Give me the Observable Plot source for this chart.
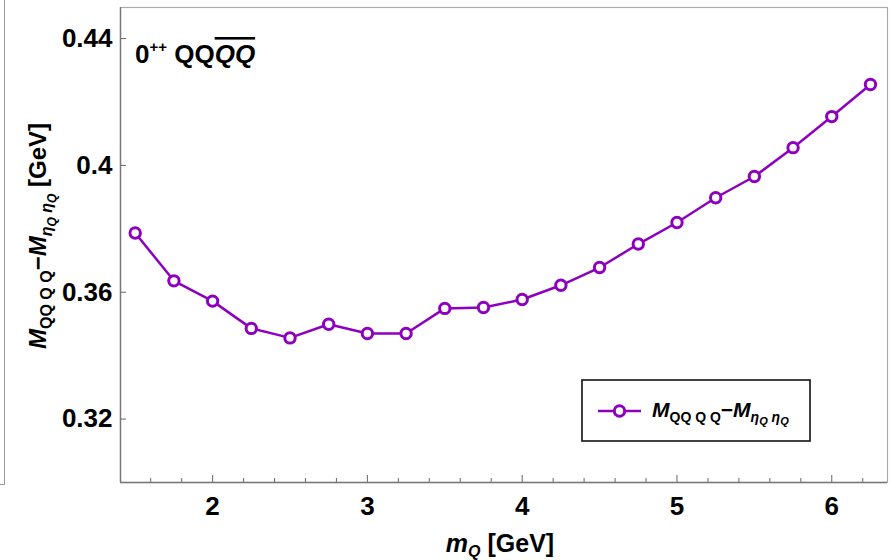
<!DOCTYPE html>
<html><head><meta charset="utf-8">
<script src="https://cdn.jsdelivr.net/npm/d3@7"></script>
<script src="https://cdn.jsdelivr.net/npm/@observablehq/plot@0.6"></script>
<style>
body{margin:0;background:#fff;}
#chart{position:relative;width:892px;height:560px;}
#edge{position:absolute;left:-2px;top:-2px;width:6px;height:486px;border-right:1.5px solid #999;border-bottom:1.5px solid #999;}
#chart svg{position:absolute;left:0;top:0;}
</style></head><body><div id="chart"><div id="edge"></div></div>
<script>
const mQ = [1.5,1.75,2.0,2.25,2.5,2.75,3.0,3.25,3.5,3.75,4.0,4.25,4.5,4.75,5.0,5.25,5.5,5.75,6.0,6.25];
const deltaM = [0.3787,0.3636,0.3572,0.3486,0.3456,0.3499,0.3470,0.3470,0.3549,0.3552,0.3577,0.3622,0.3678,0.3752,0.3820,0.3898,0.3965,0.4056,0.4154,0.4255];
const xTicks = [2,3,4,5,6];
const xTickLabels = ["2","3","4","5","6"];
const xMinorTicks = [1.6,1.8,2.2,2.4,2.6,2.8,3.2,3.4,3.6,3.8,4.2,4.4,4.6,4.8,5.2,5.4,5.6,5.8,6.2];
const yTicks = [0.32,0.36,0.40,0.44];
const yTickLabels = ["0.32","0.36","0.4","0.44"];

const data = mQ.map((x,i)=>({x, y: deltaM[i]}));
const purple = "#8e00c0";
const sans = "'Liberation Sans', Arial, Helvetica, sans-serif";

const plot = Plot.plot({
  width: 892, height: 560,
  marginLeft: 120, marginRight: 5, marginTop: 7, marginBottom: 78,
  x: {domain: [1.405, 6.36]},
  y: {domain: [0.3, 0.4498]},
  style: {fontFamily: sans, color: "#000", background: "transparent"},
  marks: [
    Plot.frame({stroke: "#aaa", strokeWidth: 1.2}),
    Plot.axisX({ticks: xMinorTicks, tickSize: -4, tickFormat: () => "", label: null, stroke: "#666"}),
    Plot.axisX({ticks: xTicks, tickSize: -7, tickPadding: 21, tickFormat: d => xTickLabels[xTicks.indexOf(d)],
      fontSize: 26, fontWeight: "bold", label: null, stroke: "#666"}),
    Plot.axisY({ticks: yTicks, tickSize: -6, tickPadding: 14, tickFormat: d => yTickLabels[yTicks.indexOf(d)],
      fontSize: 26, fontWeight: "bold", label: null, stroke: "#666"}),
    Plot.ruleX([1.405], {stroke: "#777", strokeWidth: 1.4}),
    Plot.ruleY([0.3], {stroke: "#777", strokeWidth: 1.4}),
    Plot.line(data, {x: "x", y: "y", stroke: purple, strokeWidth: 2.5}),
    Plot.dot(data, {x: "x", y: "y", r: 5.2, fill: "white", stroke: purple, strokeWidth: 3})
  ]
});
document.getElementById("chart").appendChild(plot);

const svg = d3.select(plot);

// build "M_{QQ Q Q} − M_{ηQ ηQ}" into a text selection
function massExpr(t, fs) {
  const sub = Math.round(fs*0.68), sub2 = Math.round(fs*0.5);
  const d1 = fs*0.26, d2 = fs*0.14;
  t.append("tspan").attr("font-style","italic").text("M");
  t.append("tspan").attr("font-size",sub).attr("dy",d1).text("QQ Q Q");
  t.append("tspan").attr("dy",-d1).text("\u2212");
  t.append("tspan").attr("font-style","italic").text("M");
  t.append("tspan").attr("font-size",sub).attr("font-style","italic").attr("dy",d1).text("\u03b7");
  t.append("tspan").attr("font-size",sub2).attr("font-style","italic").attr("dy",d2).text("Q");
  t.append("tspan").attr("font-size",sub).attr("font-style","italic").attr("dy",-d2).text(" \u03b7");
  t.append("tspan").attr("font-size",sub2).attr("font-style","italic").attr("dy",d2).text("Q");
  return -(d1+d2);
}

// title
const title = svg.append("text").attr("x",135).attr("y",63).attr("text-anchor","start")
  .attr("font-family",sans).attr("font-size",26).attr("font-weight","bold").attr("fill","#000");
title.append("tspan").text("0");
title.append("tspan").attr("font-size",15).attr("dy",-11).text("++");
title.append("tspan").attr("dy",11).text(" QQ");
title.append("tspan").attr("font-style","italic").style("text-decoration","overline").text("QQ");

// y label
const yl = svg.append("text").attr("transform","translate(46,236) rotate(-90)")
  .attr("text-anchor","middle").attr("font-family",sans).attr("font-size",24)
  .attr("font-weight","bold").attr("fill","#000");
const back = massExpr(yl, 24);
yl.append("tspan").attr("dy",back).text(" [GeV]");

// x label
const xl = svg.append("text").attr("x",500).attr("y",552).attr("text-anchor","middle")
  .attr("font-family",sans).attr("font-size",25).attr("font-weight","bold").attr("fill","#000");
xl.append("tspan").attr("font-style","italic").text("m");
xl.append("tspan").attr("font-size",16).attr("font-style","italic").attr("dy",5).text("Q");
xl.append("tspan").attr("dy",-5).text(" [GeV]");

// legend
const lg = svg.append("g");
lg.append("rect").attr("x",582).attr("y",380).attr("width",228).attr("height",61)
  .attr("fill","white").attr("stroke","#111").attr("stroke-width",1.6);
lg.append("line").attr("x1",598).attr("x2",641).attr("y1",411).attr("y2",411)
  .attr("stroke",purple).attr("stroke-width",2.5);
lg.append("circle").attr("cx",619.5).attr("cy",411).attr("r",5.2)
  .attr("fill","white").attr("stroke",purple).attr("stroke-width",3);
const lt = lg.append("text").attr("x",652).attr("y",417).attr("text-anchor","start")
  .attr("font-family",sans).attr("font-size",21).attr("font-weight","bold").attr("fill","#000");
massExpr(lt, 21);
</script>
</body></html>
